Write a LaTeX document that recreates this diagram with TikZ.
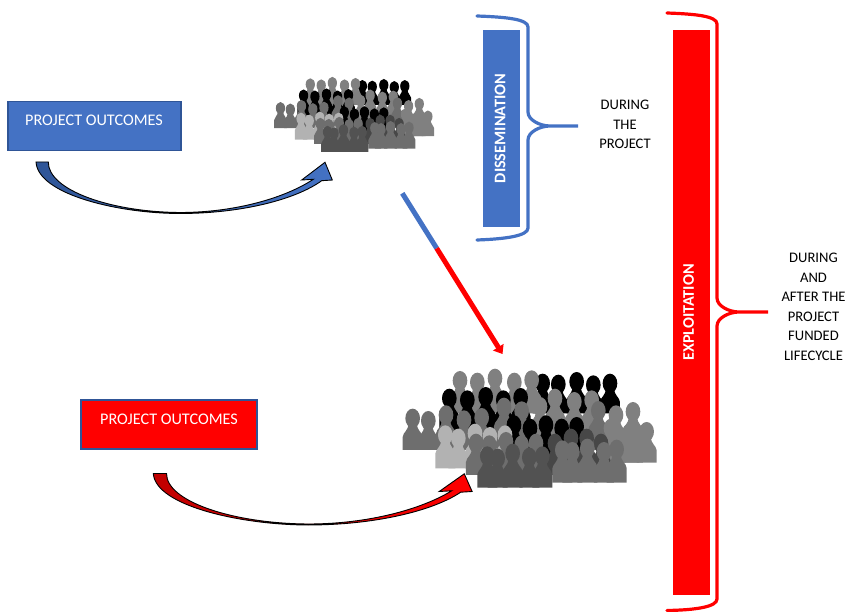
\documentclass[tikz,border=0pt]{standalone}
\usepackage{fontspec}
\setmainfont{Carlito}
\usepackage{xcolor}
\usetikzlibrary{positioning, calc, arrows.meta}

\definecolor{pblue}{HTML}{4472C4}
\definecolor{pdarkblue}{HTML}{2F5597}
\definecolor{pred}{HTML}{FF0000}
\definecolor{pdarkred}{HTML}{C00000}

% one row of people: colour, base line, head positions
\newcommand{\crowdrow}[3]{
\foreach \hx/\hy in {#3} {
\fill [#1] (\hx,\hy) ellipse (22 and 29);
\fill [#1] (\hx-13,\hy+16) .. controls (\hx-13,\hy+38) and (\hx-28,\hy+40) .. (\hx-30,\hy+56) -- (\hx-30,#2) -- (\hx+30,#2) -- (\hx+30,\hy+56) .. controls (\hx+28,\hy+40) and (\hx+13,\hy+38) .. (\hx+13,\hy+16) -- cycle;
}
}

\tikzset{
pics/crowd/.style={code={
\crowdrow{black}{190}{458/100,505/103,560/95,610/105,660/100}
\crowdrow{black!50}{190}{210/92,262/97,315/85,373/97,425/90}
\crowdrow{black}{240}{178/145,232/150,287/140,340/150,392/143}
\crowdrow{black!50}{260}{450/170,495/145,553/155,605/150}
\crowdrow{black!57}{300}{68/205,115/212}
\crowdrow{black!57}{300}{168/195,222/210,275/203,342/172,395/183,625/182}
\crowdrow{black}{320}{372/225,420/235,468/225,515/235,560/230}
\crowdrow{black!50}{338}{678/195,729/185,663/235,718/250,770/245}
\crowdrow{black!30}{355}{166/255,205/265,255/250,300/260,345/255}
\crowdrow{black!57}{375}{258/280,298/285,348/275,395/285,438/280}
\crowdrow{black!72}{375}{495/280,543/265,590/265,633/280}
\crowdrow{black!57}{398}{517/300,547/305,592/295,642/305,680/298}
\crowdrow{black!68}{413}{292/318,323/325,368/310,418/322,457/318}
}},
pics/sweeparrow/.style 2 args={code={
\draw [black, line width=0.9, left color=#1, right color=#2] (0,0) .. controls (2,33) and (84,51.5) .. (144,51.5) .. controls (204,51.5) and (259,38) .. (285.7,18.7) -- (296.3,18) -- (289,0.3) -- (265.7,18) -- (277.3,17.3) .. controls (249,36) and (199,50.5) .. (144,50.5) .. controls (74,50) and (12,28) .. (12.3,0) -- cycle;
}}
}

\begin{document}
\begin{tikzpicture}[x=1pt, y=-1pt]
\tikzstyle{outcomebox}=[draw=pdarkblue, line width=1.5, minimum height=49, minimum width=173, inner sep=0]
\tikzstyle{boxtext}=[text=white, font=\fontsize{16.2}{18}\selectfont, inner sep=0]
\tikzstyle{bar}=[minimum height=197, minimum width=37, inner sep=0]
\tikzstyle{bartext}=[text=white, rotate=90, font=\fontsize{16.2}{18}\selectfont\bfseries, inner sep=0]
\tikzstyle{sidetext}=[text=black, align=center, font=\fontsize{14.6}{19.5}\selectfont, inner sep=0]
\tikzstyle{bracket}=[line width=3.2, line cap=round]

\useasboundingbox (0,0) rectangle (846,612);

\node (box0) at (94.5,126) [outcomebox, fill=pblue] {};
\node (box1) at (169,424.5) [outcomebox, fill=pred, minimum width=176] {};
\node (tbox0) at (94,120) [boxtext] {PROJECT OUTCOMES};
\node (tbox1) at (169,419) [boxtext] {PROJECT OUTCOMES};

\pic (crowd0) [scale=0.21] at (266.2,65.1) {crowd};
\pic (crowd1) [scale=0.3333] at (390,350) {crowd};

\pic (sweep0) at (36,162) {sweeparrow={pdarkblue}{pblue}};
\pic (sweep1) [xscale=1.076] at (153.3,473.5) {sweeparrow={pdarkred}{pred}};

\node (bar0) at (501.5,128.5) [bar, fill=pblue] {};
\node (bar1) at (691.5,312.5) [bar, fill=pred, minimum height=565] {};
\node (tbar0) at (500,128.5) [bartext] {DISSEMINATION};
\node (tbar1) at (688.5,312.5) [bartext] {EXPLOITATION};

\draw [bracket, pblue] (477,16) .. controls (505,17) and (528,19) .. (528,27) -- (528,112) .. controls (528,120) and (540,126) .. (550,126) -- (578,126) -- (550,126) .. controls (540,126) and (528,132) .. (528,140) -- (528,228) .. controls (528,236) and (505,239) .. (477,240);
\draw [bracket, pred] (667,13) .. controls (695,14) and (717,16) .. (717,24) -- (717,298) .. controls (717,306) and (729,312) .. (739,312) -- (768,312) -- (739,312) .. controls (729,312) and (717,318) .. (717,326) -- (717,599) .. controls (717,607) and (695,610) .. (667,610.5);

\node (tside0) at (625,124.5) [sidetext] {DURING\\THE\\PROJECT};
\node (tside1) at (813.5,307) [sidetext] {DURING\\AND\\AFTER THE\\PROJECT\\FUNDED\\LIFECYCLE};

\coordinate (line0) at (402.3,193.3);
\coordinate (line1) at (436.7,248.3);
\coordinate (line2) at (502.5,354);
\draw [pblue, line width=5] (line0) -- (line1);
\draw [-{Triangle[length=8, width=12]}, pred, line width=5] (line1) -- (line2);
\end{tikzpicture}
\end{document}
